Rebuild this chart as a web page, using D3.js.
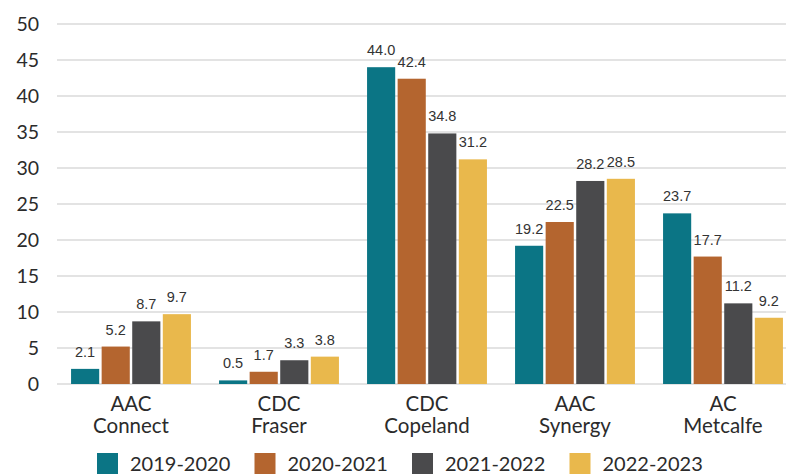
<html lang="en">
<head>
    <title>Grouped bars</title>
    <style>
        body {
            margin: 0;
            background: #fff;
        }

        .grid line {
            stroke: #e3e3e3;
            stroke-width: 2px;
        }

        .tick-label, .cat-label, .legend text {
            font-family: Lato, "Open Sans", sans-serif;
            fill: #2b2b2b;
        }

        .value-label {
            font-family: "Liberation Sans Narrow", "Liberation Sans", sans-serif;
            font-size: 14.5px;
            fill: #333;
        }
    </style>
</head>
<body>
<div id="chart"></div>
<script src="https://d3js.org/d3.v7.min.js"></script>
<script>
    const categories = [["AAC", "Connect"], ["CDC", "Fraser"], ["CDC", "Copeland"], ["AAC", "Synergy"], ["AC", "Metcalfe"]];
    const seriesNames = ["2019-2020", "2020-2021", "2021-2022", "2022-2023"];
    const seriesColors = ["#0b7585", "#b4652f", "#4a4a4c", "#e9b84c"];
    const values2019 = [2.1, 0.5, 44.0, 19.2, 23.7];
    const values2020 = [5.2, 1.7, 42.4, 22.5, 17.7];
    const values2021 = [8.7, 3.3, 34.8, 28.2, 11.2];
    const values2022 = [9.7, 3.8, 31.2, 28.5, 9.2];
    const yTicks = [0, 5, 10, 15, 20, 25, 30, 35, 40, 45, 50];

    const series = [values2019, values2020, values2021, values2022];
    const width = 786;
    const height = 474;

    const svg = d3.select("#chart").append("svg")
        .attr("width", width)
        .attr("height", height);

    const x0 = d3.scaleBand()
        .domain(d3.range(categories.length))
        .range([57, 797])
        .paddingInner(0.19)
        .paddingOuter(0.095);

    const x1 = d3.scaleBand()
        .domain(d3.range(series.length))
        .range([0, x0.bandwidth()])
        .paddingInner(0.08);

    const y = d3.scaleLinear()
        .domain([0, 50])
        .range([384, 24]);

    // gridlines + y tick labels
    const grid = svg.append("g").attr("class", "grid");
    grid.selectAll("line")
        .data(yTicks)
        .enter().append("line")
        .attr("x1", 57)
        .attr("x2", width)
        .attr("y1", d => y(d))
        .attr("y2", d => y(d));

    svg.append("g").selectAll("text")
        .data(yTicks)
        .enter().append("text")
        .attr("class", "tick-label")
        .attr("x", 39)
        .attr("y", d => y(d) + 7)
        .attr("text-anchor", "end")
        .attr("font-size", 19.5)
        .text(d => d);

    // bars
    const groups = svg.append("g").selectAll("g")
        .data(categories)
        .enter().append("g")
        .attr("transform", (d, i) => "translate(" + x0(i) + ",0)");

    groups.each(function (c, i) {
        const g = d3.select(this);
        series.forEach(function (vals, s) {
            g.append("rect")
                .attr("x", x1(s))
                .attr("y", y(vals[i]))
                .attr("width", x1.bandwidth())
                .attr("height", y(0) - y(vals[i]))
                .attr("fill", seriesColors[s]);
            g.append("text")
                .attr("class", "value-label")
                .attr("x", x1(s) + x1.bandwidth() / 2)
                .attr("y", y(vals[i]) - 12)
                .attr("text-anchor", "middle")
                .text(vals[i].toFixed(1));
        });
    });

    // category labels, two lines each
    [0, 1].forEach(function (line) {
        svg.append("g").selectAll("text")
            .data(categories)
            .enter().append("text")
            .attr("class", "cat-label")
            .attr("font-size", 20.5)
            .attr("text-anchor", "middle")
            .attr("x", (d, i) => x0(i) + x0.bandwidth() / 2)
            .attr("y", 411 + line * 22)
            .text(d => d[line]);
    });

    // legend
    const legend = svg.append("g").attr("class", "legend");
    const item = legend.selectAll("g")
        .data(seriesNames)
        .enter().append("g")
        .attr("transform", (d, i) => "translate(" + (97 + i * 157.5) + ",453)");
    item.append("rect")
        .attr("width", 21)
        .attr("height", 21)
        .attr("fill", (d, i) => seriesColors[i]);
    item.append("text")
        .attr("x", 33)
        .attr("y", 18)
        .attr("font-size", 20)
        .text(d => d);
</script>
</body>
</html>
